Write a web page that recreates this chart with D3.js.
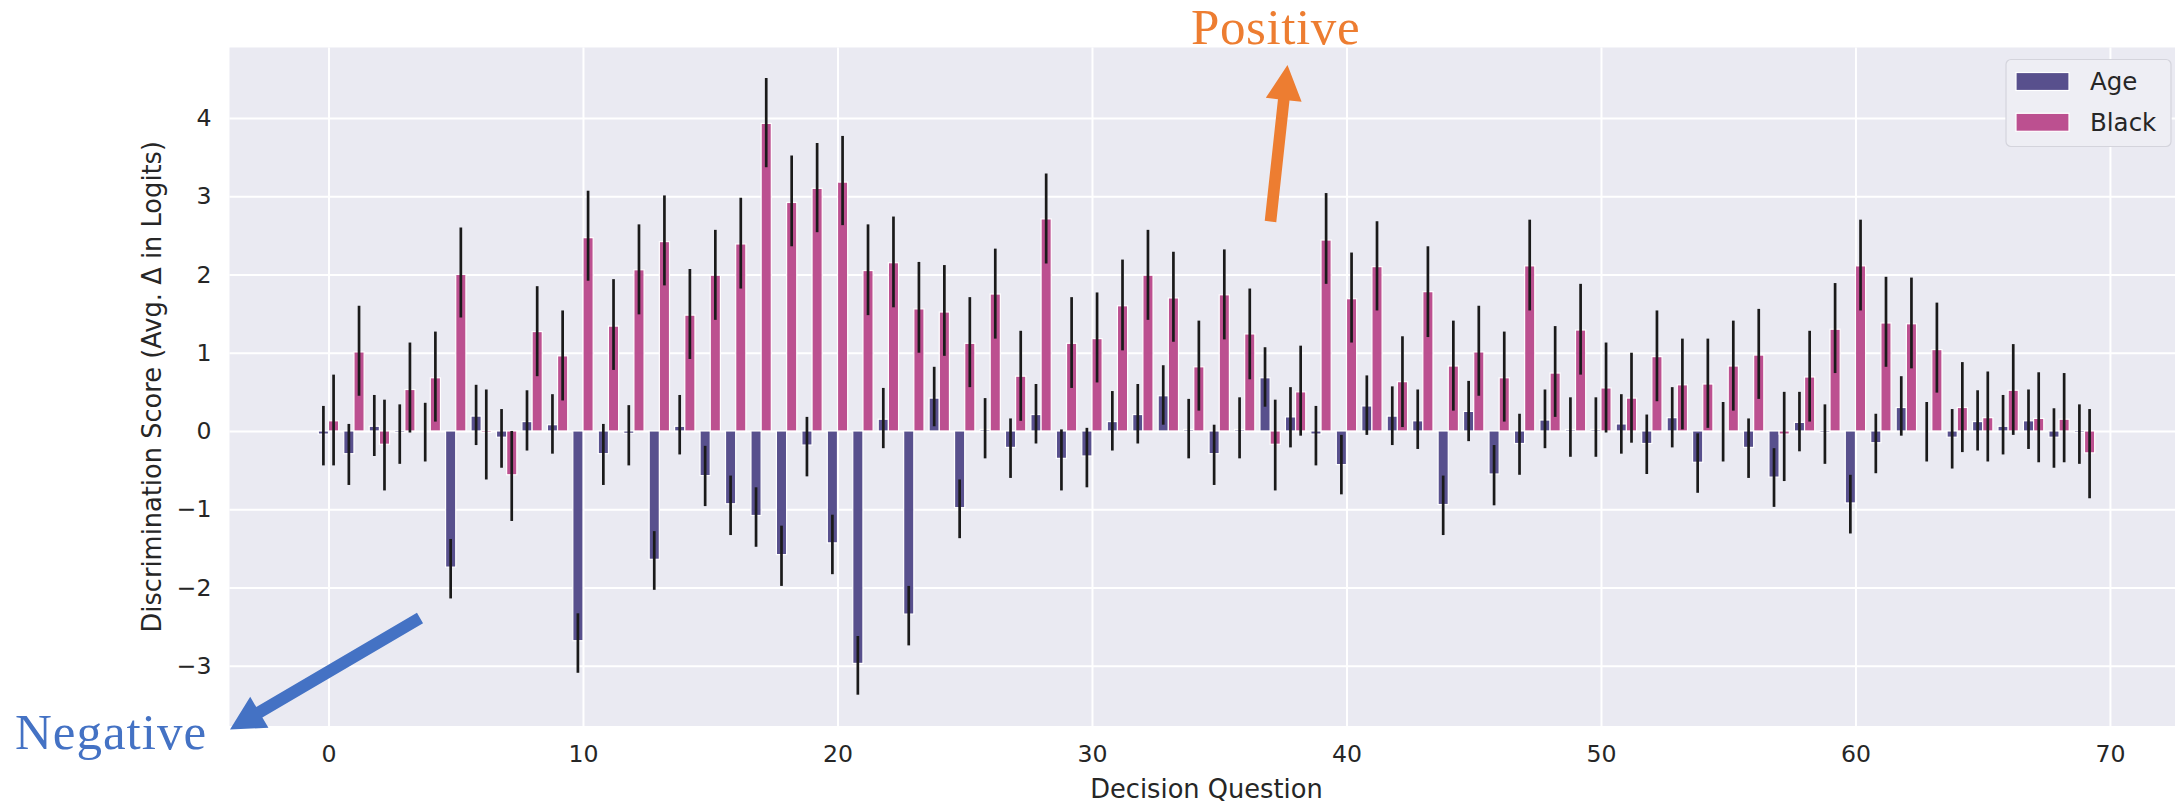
<!DOCTYPE html>
<html>
<head>
<meta charset="utf-8">
<script src="https://cdn.jsdelivr.net/npm/d3@7"></script>
<style>
  body { margin: 0; background: #fff; }
  text { font-family: "DejaVu Sans", sans-serif; }
</style>
</head>
<body>
<script>
// 70 decision questions, two demographic attributes
var questions = d3.range(0, 70);
var seriesNames = ["Age", "Black"];

var ageVals = [-0.04, -0.29, 0.06, -0.02, 0.00, -1.74, 0.19, -0.08, 0.12, 0.08,
               -2.68, -0.29, -0.03, -1.64, 0.06, -0.57, -0.93, -1.08, -1.58, -0.18,
               -1.43, -2.97, 0.15, -2.34, 0.42, -0.98, 0.02, -0.21, 0.21, -0.35,
               -0.32, 0.12, 0.21, 0.45, 0.02, -0.29, 0.02, 0.68, 0.18, -0.04,
               -0.43, 0.32, 0.19, 0.13, -0.94, 0.25, -0.55, -0.16, 0.14, 0.02,
               0.02, 0.09, -0.16, 0.17, -0.40, 0.00, -0.21, -0.59, 0.11, -0.02,
               -0.92, -0.15, 0.30, 0.00, -0.08, 0.12, 0.06, 0.13, -0.08, -0.02];
var ageLo = [-0.44, -0.69, -0.32, -0.42, -0.39, -2.14, -0.18, -0.47, -0.25, -0.29,
             -3.09, -0.69, -0.44, -2.03, -0.30, -0.96, -1.33, -1.48, -1.98, -0.58,
             -1.83, -3.37, -0.22, -2.74, 0.06, -1.37, -0.35, -0.60, -0.16, -0.76,
             -0.72, -0.25, -0.16, 0.08, -0.35, -0.69, -0.35, 0.31, -0.21, -0.44,
             -0.81, -0.05, -0.18, -0.23, -1.33, -0.13, -0.95, -0.56, -0.22, -0.33,
             -0.33, -0.29, -0.55, -0.21, -0.79, -0.39, -0.60, -0.97, -0.26, -0.42,
             -1.31, -0.54, -0.06, -0.39, -0.48, -0.25, -0.30, -0.23, -0.47, -0.42];
var ageHi = [0.32, 0.09, 0.46, 0.34, 0.36, -1.38, 0.59, 0.28, 0.52, 0.47,
             -2.33, 0.09, 0.33, -1.28, 0.46, -0.19, -0.57, -0.72, -1.21, 0.18,
             -1.07, -2.62, 0.55, -1.98, 0.82, -0.62, 0.42, 0.16, 0.60, 0.02,
             0.04, 0.51, 0.60, 0.84, 0.41, 0.08, 0.43, 1.07, 0.56, 0.32,
             -0.05, 0.71, 0.57, 0.53, -0.57, 0.64, -0.18, 0.22, 0.53, 0.43,
             0.43, 0.47, 0.21, 0.56, -0.03, 0.37, 0.16, -0.22, 0.50, 0.34,
             -0.56, 0.22, 0.70, 0.37, 0.28, 0.52, 0.46, 0.53, 0.29, 0.34];

var blackVals = [0.13, 1.01, -0.17, 0.53, 0.68, 2.00, -0.02, -0.56, 1.27, 0.96,
                 2.47, 1.34, 2.06, 2.42, 1.48, 1.99, 2.39, 3.93, 2.92, 3.10,
                 3.18, 2.05, 2.15, 1.56, 1.52, 1.12, 1.75, 0.70, 2.71, 1.12,
                 1.18, 1.60, 1.99, 1.70, 0.82, 1.74, 1.24, -0.17, 0.50, 2.44,
                 1.69, 2.10, 0.63, 1.78, 0.83, 1.01, 0.68, 2.11, 0.74, 1.29,
                 0.55, 0.42, 0.95, 0.59, 0.60, 0.83, 0.97, -0.04, 0.69, 1.30,
                 2.11, 1.38, 1.37, 1.04, 0.30, 0.17, 0.52, 0.16, 0.15, -0.28];
var blackLo = [-0.44, 0.45, -0.76, -0.02, 0.12, 1.45, -0.62, -1.15, 0.70, 0.39,
               1.92, 0.78, 1.49, 1.86, 0.92, 1.42, 1.82, 3.37, 2.36, 2.54,
               2.63, 1.48, 1.58, 1.00, 0.96, 0.56, 1.18, 0.13, 2.14, 0.55,
               0.62, 1.03, 1.42, 1.14, 0.26, 1.17, 0.66, -0.76, -0.06, 1.88,
               1.13, 1.54, 0.05, 1.20, 0.26, 0.45, 0.12, 1.54, 0.18, 0.72,
               -0.02, -0.15, 0.38, 0.02, 0.04, 0.26, 0.41, -0.64, 0.12, 0.74,
               1.54, 0.82, 0.80, 0.49, -0.27, -0.39, -0.05, -0.40, -0.40, -0.86];
var blackHi = [0.72, 1.60, 0.40, 1.13, 1.27, 2.60, 0.53, 0.00, 1.85, 1.54,
               3.07, 1.94, 2.64, 3.01, 2.07, 2.57, 2.98, 4.51, 3.52, 3.68,
               3.77, 2.64, 2.74, 2.16, 2.12, 1.71, 2.33, 1.28, 3.29, 1.71,
               1.77, 2.19, 2.57, 2.29, 1.41, 2.32, 1.82, 0.40, 1.09, 3.04,
               2.28, 2.68, 1.21, 2.36, 1.41, 1.60, 1.27, 2.70, 1.34, 1.88,
               1.13, 1.00, 1.54, 1.18, 1.18, 1.41, 1.56, 0.50, 1.28, 1.89,
               2.70, 1.97, 1.96, 1.64, 0.88, 0.76, 1.11, 0.75, 0.74, 0.28];

var xTicks = [0, 10, 20, 30, 40, 50, 60, 70];
var yTicks = [-3, -2, -1, 0, 1, 2, 3, 4];

var width = 2175;
var height = 804;
var plotLeft = 229.5, plotRight = 2183.5, plotTop = 47.5, plotBottom = 726;
var colors = { Age: "#58508d", Black: "#bc5090" };

var svg = d3.select("body")
            .append("svg")
            .attr("width", width)
            .attr("height", height);

var x = d3.scaleLinear().domain([-3.89, 72.89]).range([plotLeft, plotRight]);
var y = d3.scaleLinear().domain([-3.77, 4.90]).range([plotBottom, plotTop]);

// plot background
svg.append("rect")
   .attr("x", plotLeft).attr("y", plotTop)
   .attr("width", plotRight - plotLeft).attr("height", plotBottom - plotTop)
   .attr("fill", "#eaeaf2");

// grid + tick labels
var yAxis = svg.append("g")
   .attr("transform", "translate(" + plotLeft + ",0)")
   .call(d3.axisLeft(y).tickValues(yTicks).tickSize(-(plotRight - plotLeft)).tickPadding(18));
var xAxis = svg.append("g")
   .attr("transform", "translate(0," + plotBottom + ")")
   .call(d3.axisBottom(x).tickValues(xTicks).tickSize(-(plotBottom - plotTop)).tickPadding(19));

[xAxis, yAxis].forEach(function (g) {
  g.select(".domain").remove();
  g.selectAll(".tick line").attr("stroke", "#fff").attr("stroke-width", 2);
  g.selectAll(".tick text")
   .attr("fill", "#262626")
   .style("font-size", "23.6px")
   .style("font-family", "DejaVu Sans");
});

var bw = 0.4;
var series = [
  { name: "Age", off: -0.2, vals: ageVals, lo: ageLo, hi: ageHi },
  { name: "Black", off: 0.2, vals: blackVals, lo: blackLo, hi: blackHi }
];

series.forEach(function (s) {
  svg.append("g").selectAll("rect")
     .data(questions)
     .enter()
     .append("rect")
     .attr("x", function (q) { return x(q + s.off - bw / 2); })
     .attr("width", function (q) { return x(bw) - x(0); })
     .attr("y", function (q) { return y(Math.max(0, s.vals[q])); })
     .attr("height", function (q) { return Math.abs(y(s.vals[q]) - y(0)); })
     .attr("fill", colors[s.name])
     .attr("stroke", "#fff")
     .attr("stroke-width", 1.2);
});

series.forEach(function (s) {
  svg.append("g").selectAll("line")
     .data(questions)
     .enter()
     .append("line")
     .attr("x1", function (q) { return x(q + s.off); })
     .attr("x2", function (q) { return x(q + s.off); })
     .attr("y1", function (q) { return y(s.lo[q]); })
     .attr("y2", function (q) { return y(s.hi[q]); })
     .attr("stroke", "#1a1a1a")
     .attr("stroke-width", 2.7);
});

// axis titles
svg.append("text")
   .attr("x", (plotLeft + plotRight) / 2)
   .attr("y", 789)
   .attr("text-anchor", "middle")
   .attr("dominant-baseline", "central")
   .attr("fill", "#262626")
   .style("font-size", "25.7px")
   .text("Decision Question");

svg.append("text")
   .attr("transform", "translate(152," + ((plotTop + plotBottom) / 2) + ") rotate(-90)")
   .attr("text-anchor", "middle")
   .attr("dominant-baseline", "central")
   .attr("fill", "#262626")
   .style("font-size", "25.7px")
   .text("Discrimination Score (Avg. \u0394 in Logits)");

// legend
var lg = svg.append("g");
lg.append("rect")
  .attr("x", 2006).attr("y", 59.5)
  .attr("width", 165).attr("height", 87)
  .attr("rx", 5)
  .attr("fill", "#eeeef4")
  .attr("stroke", "#d4d4dc")
  .attr("stroke-width", 1.2);
seriesNames.forEach(function (n, i) {
  lg.append("rect")
    .attr("x", 2016).attr("y", 72.5 + i * 40.8)
    .attr("width", 53).attr("height", 18)
    .attr("fill", colors[n])
    .attr("stroke", "#fff")
    .attr("stroke-width", 1.2);
  lg.append("text")
    .attr("x", 2090).attr("y", 81.5 + i * 40.8)
    .attr("dominant-baseline", "central")
    .attr("fill", "#262626")
    .style("font-size", "24.5px")
    .text(n);
});

// annotation arrows
function arrow(tail, tip, shaftHalf, headLen, headHalf, color) {
  var dx = tip[0] - tail[0], dy = tip[1] - tail[1];
  var len = Math.sqrt(dx * dx + dy * dy);
  var ux = dx / len, uy = dy / len;
  var px = -uy, py = ux;
  var bx = tip[0] - ux * headLen, by = tip[1] - uy * headLen;
  var pts = [
    [tail[0] + px * shaftHalf, tail[1] + py * shaftHalf],
    [bx + px * shaftHalf, by + py * shaftHalf],
    [bx + px * headHalf, by + py * headHalf],
    tip,
    [bx - px * headHalf, by - py * headHalf],
    [bx - px * shaftHalf, by - py * shaftHalf],
    [tail[0] - px * shaftHalf, tail[1] - py * shaftHalf]
  ];
  svg.append("path")
     .attr("d", d3.line()(pts) + "Z")
     .attr("fill", color);
}

arrow([1270.5, 221.5], [1287.5, 65], 5.8, 35, 18, "#ed7d31");
arrow([420, 618], [230, 729.5], 6, 34, 18, "#4472c4");

svg.append("text")
   .attr("x", 1191).attr("y", 43.5)
   .attr("fill", "#ed7d31")
   .style("font-family", "Liberation Serif, serif")
   .style("font-size", "51px")
   .style("letter-spacing", "0.6px")
   .text("Positive");

svg.append("text")
   .attr("x", 15).attr("y", 748.5)
   .attr("fill", "#4472c4")
   .style("font-family", "Liberation Serif, serif")
   .style("font-size", "51px")
   .style("letter-spacing", "1px")
   .text("Negative");
</script>
</body>
</html>
